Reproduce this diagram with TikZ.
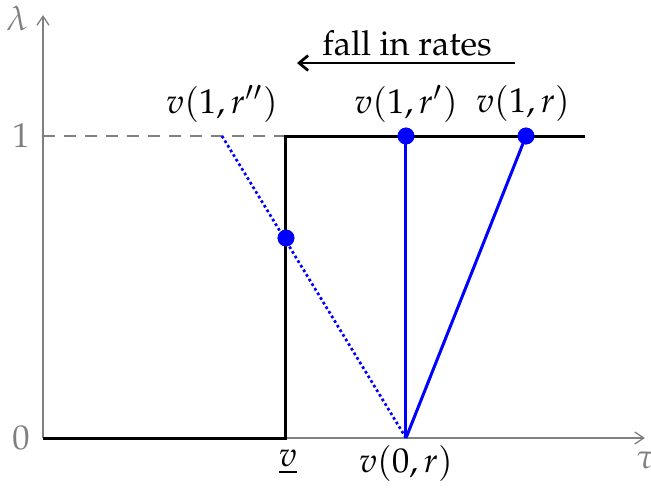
\documentclass[tikz,border=0pt]{standalone}
\usepackage[T1]{fontenc}
\usepackage{mathpazo}
\usetikzlibrary{arrows.meta}
\begin{document}
\begin{tikzpicture}[x=0.33333pt,y=-0.33333pt,
  axis/.style={draw=gray,line width=0.45pt,-{Straight Barb[length=3pt,width=4pt]}},
  lbl/.style={font=\fontsize{11.5}{14}\selectfont,inner sep=0pt},
  glbl/.style={lbl,text=gray},
  stepline/.style={draw=black,line width=1pt},
  bline/.style={draw=blue,line width=1pt},
  dotline/.style={draw=blue,line width=0.9pt,dash pattern=on 0.9pt off 0.9pt},
  bdot/.style={circle,fill=blue,inner sep=0pt,minimum size=5.6pt}]
\useasboundingbox (0,0) rectangle (651,489);
% axes
\coordinate (O) at (43,438);
\coordinate (ytop) at (43,15);
\coordinate (xend) at (645,438);
\draw[axis] (O) -- (ytop);
\draw[axis] (O) -- (xend);
\node[glbl] (lam) at (17,18) {$\lambda$};
\node[glbl] (tau) at (646,460) {$\tau$};
\node[glbl] (zero) at (21,438) {$0$};
\node[glbl] (one) at (21,136) {$1$};
% key points
\coordinate (y1) at (43,136);
\coordinate (vlow) at (286,438);
\coordinate (vlowtop) at (286,136);
\coordinate (topend) at (585,136);
\coordinate (v0r) at (406,438);
\coordinate (rpp) at (222,136);
\draw[gray,line width=0.45pt,dash pattern=on 4pt off 3pt] (y1) -- (vlowtop);
% black step
\draw[stepline] (O) -- (vlow) -- (vlowtop) -- (topend);
% blue lines
\node[bdot] (rp) at (406,136) {};
\node[bdot] (r) at (526,136) {};
\node[bdot] (mid) at (286,238) {};
\draw[bline] (v0r) -- (rp.center);
\draw[bline] (v0r) -- (r.center);
\draw[dotline] (v0r) -- (rpp);
\node[bdot] at (406,136) {};
\node[bdot] at (526,136) {};
\node[bdot] at (286,238) {};
% labels
\node[lbl] (lrpp) at (222,104) {$v(1,r'')$};
\node[lbl] (lrp) at (406,104) {$v(1,r')$};
\node[lbl] (lr) at (523,104) {$v(1,r)$};
\node[lbl] (lvl) at (288,462) {$\underline{v}$};
\node[lbl] (lv0) at (406,464) {$v(0,r)$};
% fall in rates
\node[lbl] (fir) at (407,43) {fall in rates};
\coordinate (as) at (515,63);
\coordinate (ae) at (297,63);
\draw[line width=0.9pt,-{Straight Barb[length=3pt,width=5pt]}] (as) -- (ae);
\end{tikzpicture}
\end{document}
